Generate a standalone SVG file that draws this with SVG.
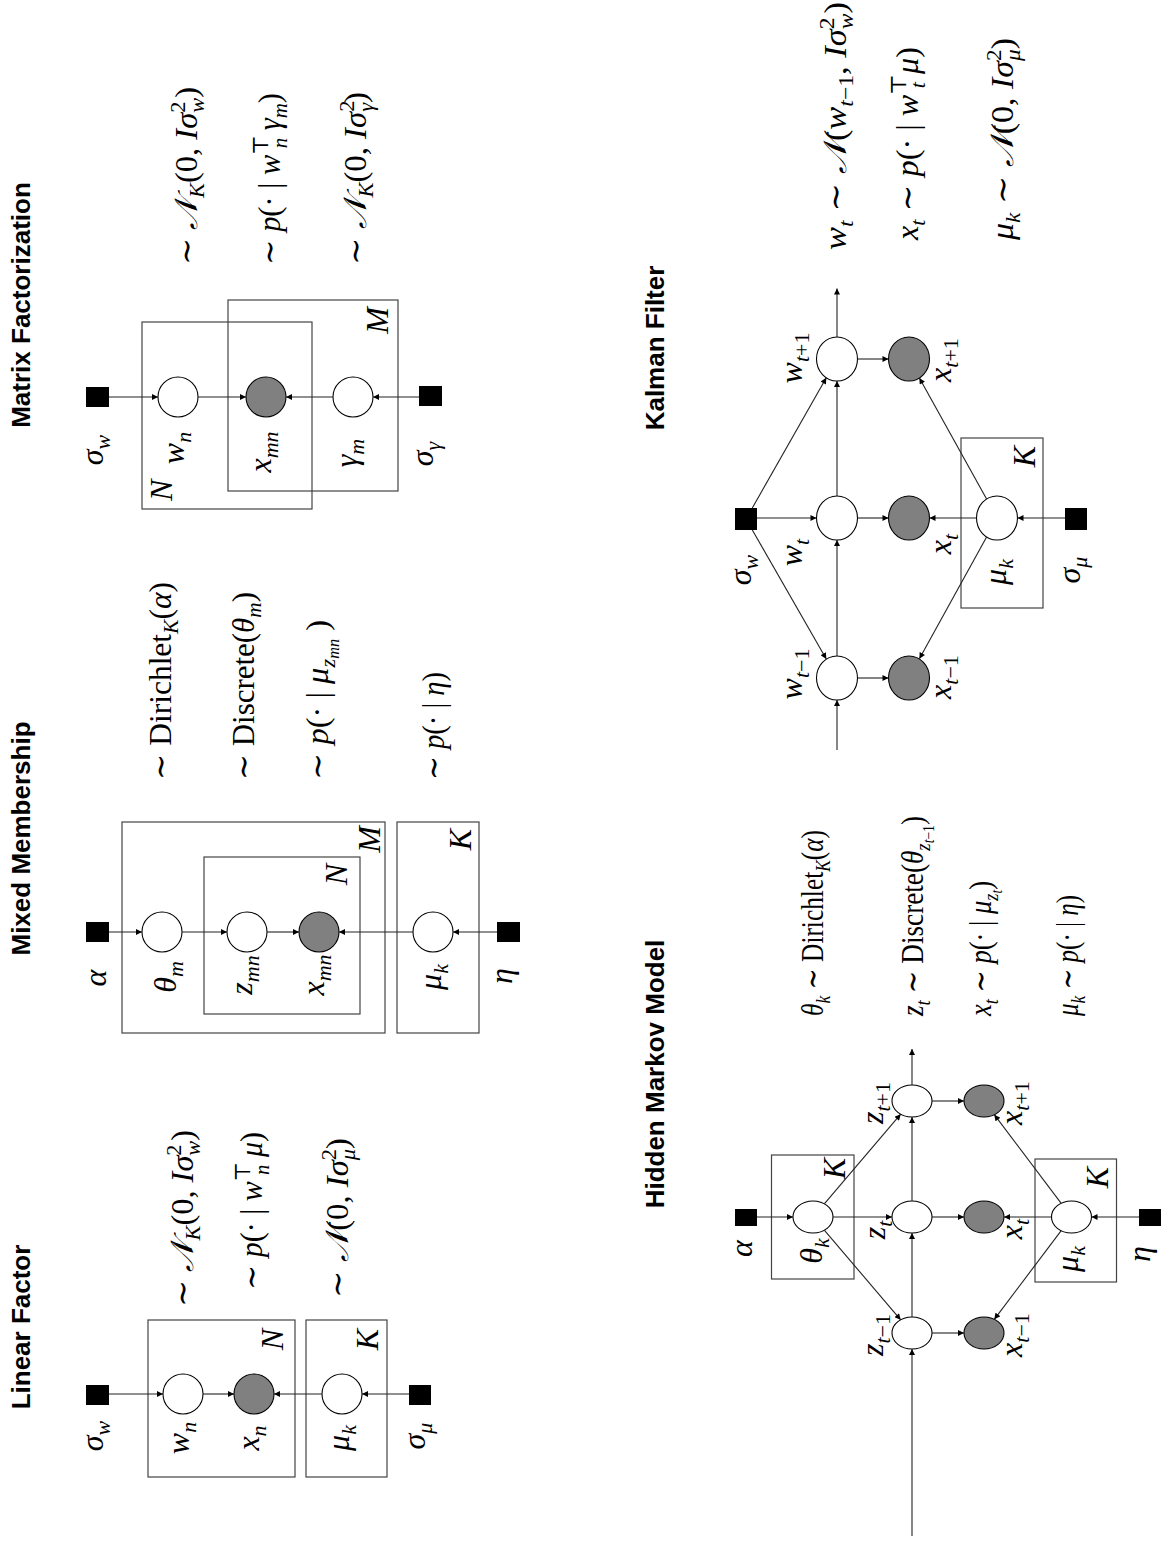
<svg xmlns="http://www.w3.org/2000/svg" width="1168" height="1556" viewBox="0 0 1168 1556">
<style>
.t{font-family:"Liberation Sans",Arial,sans-serif;font-weight:bold;font-size:26px;text-anchor:middle;fill:#000}
.m{font-family:"Liberation Serif","DejaVu Serif",serif;font-size:32px;fill:#000}
.c{text-anchor:middle}
.e{text-anchor:end}
.i{font-style:italic}
.r{font-style:normal}
.s{font-size:22px}
.ss{font-size:16px}
.n{fill:#fff;stroke:#000;stroke-width:1.1}
.o{fill:#808080;stroke:#000;stroke-width:1.1}
.sq{fill:#000}
.p{fill:none;stroke:#444;stroke-width:1.2}
.ed line{stroke:#222;stroke-width:1.1;marker-end:url(#ah)}
</style>
<defs>
<marker id="ah" viewBox="0 0 10 10" refX="10" refY="5" markerWidth="7" markerHeight="6" markerUnits="userSpaceOnUse" orient="auto"><path d="M0,0L10,5L0,10z" fill="#000"/></marker>
</defs>
<rect width="1168" height="1556" fill="#fff"/>
<!-- whole page is laid out landscape and turned a quarter turn -->
<g transform="translate(0,1556) rotate(-90)">

<!-- ===== Linear Factor ===== -->
<g id="linear-factor">
<text class="t" x="229" y="30">Linear Factor</text>
<g id="lf-plates">
<rect class="p" x="79" y="148" width="157" height="147"/>
<text class="m i e" x="227" y="283">N</text>
<rect class="p" x="79" y="306" width="157" height="81"/>
<text class="m i e" x="227" y="378">K</text>
</g>
<g id="lf-sigma-w"><rect class="sq" x="151" y="86" width="20" height="23"/><text class="m i c" x="120" y="103">σ<tspan class="s" dy="7">w</tspan></text></g>
<g id="lf-w-n"><circle class="n" cx="162" cy="183" r="20"/><text class="m i c" x="118" y="189">w<tspan class="s" dy="7">n</tspan></text></g>
<g id="lf-x-n"><circle class="o" cx="162" cy="254" r="20"/><text class="m i c" x="118" y="259">x<tspan class="s" dy="7">n</tspan></text></g>
<g id="lf-mu-k"><circle class="n" cx="162" cy="342" r="20"/><text class="m i c" x="118" y="349">μ<tspan class="s" dy="7">k</tspan></text></g>
<g id="lf-sigma-mu"><rect class="sq" x="151" y="409" width="20" height="22"/><text class="m i c" x="120" y="425">σ<tspan class="s" dy="7">μ</tspan></text></g>
<g id="lf-edges" class="ed">
<line x1="162" y1="109" x2="162" y2="163"/>
<line x1="162" y1="203" x2="162" y2="234"/>
<line x1="162" y1="322" x2="162" y2="274"/>
<line x1="162" y1="409" x2="162" y2="362"/>
</g>
<g id="lf-eqs">
<text class="m" x="249" y="193" textLength="177" lengthAdjust="spacingAndGlyphs">∼ <tspan class="i">𝒩</tspan><tspan class="s i" dy="7">K</tspan><tspan dy="-7">(0, </tspan><tspan class="i">Iσ</tspan><tspan class="s" dy="-12">2</tspan><tspan class="s i" dx="-11" dy="19">w</tspan><tspan dy="-7">)</tspan></text>
<text class="m" x="266" y="262" textLength="158" lengthAdjust="spacingAndGlyphs">∼ <tspan class="i">p</tspan>(· | <tspan class="i">w</tspan><tspan class="s" dy="-12">⊤</tspan><tspan class="s i" dx="-14" dy="19">n</tspan><tspan class="i" dy="-7"> μ</tspan>)</text>
<text class="m" x="258" y="348" textLength="160" lengthAdjust="spacingAndGlyphs">∼ <tspan class="i">𝒩</tspan>(0, <tspan class="i">Iσ</tspan><tspan class="s" dy="-12">2</tspan><tspan class="s i" dx="-11" dy="19">μ</tspan><tspan dy="-7">)</tspan></text>
</g>
</g>

<!-- ===== Mixed Membership ===== -->
<g id="mixed-membership">
<text class="t" x="717.5" y="30">Mixed Membership</text>
<g id="mm-plates">
<rect class="p" x="523" y="122" width="211" height="263"/>
<text class="m i e" x="730" y="380">M</text>
<rect class="p" x="542" y="204" width="157" height="156"/>
<text class="m i e" x="692" y="347">N</text>
<rect class="p" x="523" y="397" width="211" height="82"/>
<text class="m i e" x="727" y="471">K</text>
</g>
<g id="mm-alpha"><rect class="sq" x="614" y="86" width="20" height="23"/><text class="m i c" x="578" y="106">α</text></g>
<g id="mm-theta-m"><circle class="n" cx="624" cy="162" r="20"/><text class="m i c" x="579" y="176">θ<tspan class="s" dy="7">m</tspan></text></g>
<g id="mm-z-mn"><circle class="n" cx="624" cy="247" r="20"/><text class="m i c" x="581" y="252">z<tspan class="s" dy="7">mn</tspan></text></g>
<g id="mm-x-mn"><circle class="o" cx="624" cy="319" r="20"/><text class="m i c" x="581" y="324">x<tspan class="s" dy="7">mn</tspan></text></g>
<g id="mm-mu-k"><circle class="n" cx="624" cy="433" r="20"/><text class="m i c" x="579" y="441">μ<tspan class="s" dy="7">k</tspan></text></g>
<g id="mm-eta"><rect class="sq" x="614" y="497" width="20" height="23"/><text class="m i c" x="580" y="512">η</text></g>
<g id="mm-edges" class="ed">
<line x1="624" y1="109" x2="624" y2="142"/>
<line x1="624" y1="182" x2="624" y2="227"/>
<line x1="624" y1="267" x2="624" y2="299"/>
<line x1="624" y1="413" x2="624" y2="339"/>
<line x1="624" y1="497" x2="624" y2="453"/>
</g>
<g id="mm-eqs">
<text class="m" x="776" y="171" textLength="198" lengthAdjust="spacingAndGlyphs">∼ Dirichlet<tspan class="s i" dy="7">K</tspan><tspan dy="-7">(</tspan><tspan class="i">α</tspan>)</text>
<text class="m" x="776" y="254" textLength="188" lengthAdjust="spacingAndGlyphs">∼ Discrete(<tspan class="i">θ</tspan><tspan class="s i" dy="7">m</tspan><tspan dy="-7">)</tspan></text>
<text class="m" x="776" y="328" textLength="160" lengthAdjust="spacingAndGlyphs">∼ <tspan class="i">p</tspan>(· | <tspan class="i">μ</tspan><tspan class="s i" dy="7">z</tspan><tspan class="ss i" dy="4">mn</tspan><tspan dy="-11"> )</tspan></text>
<text class="m" x="776" y="444" textLength="108" lengthAdjust="spacingAndGlyphs">∼ <tspan class="i">p</tspan>(· | <tspan class="i">η</tspan>)</text>
</g>
</g>

<!-- ===== Matrix Factorization ===== -->
<g id="matrix-factorization">
<text class="t" x="1251" y="30">Matrix Factorization</text>
<g id="mf-plates">
<rect class="p" x="1047" y="142" width="187" height="170"/>
<text class="m i" x="1055" y="172">N</text>
<rect class="p" x="1065" y="228" width="191" height="170"/>
<text class="m i e" x="1249" y="388">M</text>
</g>
<g id="mf-sigma-w"><rect class="sq" x="1149" y="86" width="20" height="23"/><text class="m i c" x="1106" y="103">σ<tspan class="s" dy="7">w</tspan></text></g>
<g id="mf-w-n"><circle class="n" cx="1159" cy="178" r="20"/><text class="m i c" x="1108" y="184">w<tspan class="s" dy="7">n</tspan></text></g>
<g id="mf-x-mn"><circle class="o" cx="1159" cy="266" r="20"/><text class="m i c" x="1104" y="271">x<tspan class="s" dy="7">mn</tspan></text></g>
<g id="mf-gamma-m"><circle class="n" cx="1159" cy="353" r="20"/><text class="m i c" x="1103" y="357">γ<tspan class="s" dy="7">m</tspan></text></g>
<g id="mf-sigma-gamma"><rect class="sq" x="1150" y="419" width="20" height="23"/><text class="m i c" x="1102" y="433">σ<tspan class="s" dy="7">γ</tspan></text></g>
<g id="mf-edges" class="ed">
<line x1="1159" y1="109" x2="1159" y2="158"/>
<line x1="1159" y1="198" x2="1159" y2="246"/>
<line x1="1159" y1="333" x2="1159" y2="286"/>
<line x1="1159" y1="419" x2="1159" y2="373"/>
</g>
<g id="mf-eqs">
<text class="m" x="1291" y="197" textLength="178" lengthAdjust="spacingAndGlyphs">∼ <tspan class="i">𝒩</tspan><tspan class="s i" dy="7">K</tspan><tspan dy="-7">(0, </tspan><tspan class="i">Iσ</tspan><tspan class="s" dy="-12">2</tspan><tspan class="s i" dx="-11" dy="19">w</tspan><tspan dy="-7">)</tspan></text>
<text class="m" x="1291" y="280" textLength="172" lengthAdjust="spacingAndGlyphs">∼ <tspan class="i">p</tspan>(· | <tspan class="i">w</tspan><tspan class="s" dy="-12">⊤</tspan><tspan class="s i" dx="-14" dy="19">n</tspan><tspan class="i" dy="-7"> γ</tspan><tspan class="s i" dy="7">m</tspan><tspan dy="-7">)</tspan></text>
<text class="m" x="1291" y="366" textLength="173" lengthAdjust="spacingAndGlyphs">∼ <tspan class="i">𝒩</tspan><tspan class="s i" dy="7">K</tspan><tspan dy="-7">(0, </tspan><tspan class="i">Iσ</tspan><tspan class="s" dy="-12">2</tspan><tspan class="s i" dx="-11" dy="19">γ</tspan><tspan dy="-7">)</tspan></text>
</g>
</g>

<!-- ===== Hidden Markov Model ===== -->
<g id="hidden-markov-model">
<text class="t" x="482" y="664">Hidden Markov Model</text>
<g id="hmm-plates">
<rect class="p" x="277" y="771.5" width="124" height="82.5"/>
<text class="m i e" x="398" y="845">K</text>
<rect class="p" x="274" y="1035" width="123" height="81.5"/>
<text class="m i e" x="389" y="1108">K</text>
</g>
<g id="hmm-alpha"><rect class="sq" x="330" y="735" width="17" height="22"/><text class="m i c" x="307.5" y="752">α</text></g>
<g id="hmm-theta-k"><ellipse class="n" cx="339" cy="813" rx="16" ry="20"/><text class="m i c" x="305" y="822">θ<tspan class="s" dy="7">k</tspan></text></g>
<g id="hmm-z-prev"><ellipse class="n" cx="223" cy="912" rx="16" ry="20"/><text class="m i c" x="221" y="883">z<tspan class="s" dy="7">t<tspan class="r">−1</tspan></tspan></text></g>
<g id="hmm-z-t"><ellipse class="n" cx="339" cy="912" rx="16" ry="20"/><text class="m i c" x="326" y="885">z<tspan class="s" dy="7">t</tspan></text></g>
<g id="hmm-z-next"><ellipse class="n" cx="455" cy="912" rx="16" ry="20"/><text class="m i c" x="453" y="883">z<tspan class="s" dy="7">t<tspan class="r">+1</tspan></tspan></text></g>
<g id="hmm-x-prev"><ellipse class="o" cx="223" cy="984" rx="16" ry="20"/><text class="m i c" x="221" y="1022">x<tspan class="s" dy="7">t<tspan class="r">−1</tspan></tspan></text></g>
<g id="hmm-x-t"><ellipse class="o" cx="339" cy="984" rx="16" ry="20"/><text class="m i c" x="327" y="1022">x<tspan class="s" dy="7">t</tspan></text></g>
<g id="hmm-x-next"><ellipse class="o" cx="455" cy="984" rx="16" ry="20"/><text class="m i c" x="453" y="1022">x<tspan class="s" dy="7">t<tspan class="r">+1</tspan></tspan></text></g>
<g id="hmm-mu-k"><ellipse class="n" cx="339" cy="1071.5" rx="16" ry="20"/><text class="m i c" x="297" y="1078">μ<tspan class="s" dy="7">k</tspan></text></g>
<g id="hmm-eta"><rect class="sq" x="330" y="1139" width="17" height="22"/><text class="m i c" x="302" y="1150">η</text></g>
<g id="hmm-edges" class="ed">
<line x1="339" y1="757" x2="339" y2="793"/>
<line x1="339" y1="833" x2="339" y2="892"/>
<line x1="339" y1="932" x2="339" y2="964"/>
<line x1="339" y1="1051.5" x2="339" y2="1004"/>
<line x1="339" y1="1139" x2="339" y2="1091.5"/>
<line x1="239" y1="912" x2="323" y2="912"/>
<line x1="355" y1="912" x2="439" y2="912"/>
<line x1="20" y1="912" x2="207" y2="912"/>
<line x1="471" y1="912" x2="507" y2="912"/>
<line x1="223" y1="932" x2="223" y2="964"/>
<line x1="455" y1="932" x2="455" y2="964"/>
<line x1="325.8" y1="824.3" x2="236.2" y2="900.7"/>
<line x1="352.2" y1="824.3" x2="441.8" y2="900.7"/>
<line x1="325.3" y1="1061.2" x2="236.7" y2="994.3"/>
<line x1="352.7" y1="1061.2" x2="441.3" y2="994.3"/>
</g>
<g id="hmm-eqs">
<text class="m" x="540" y="823" textLength="186" lengthAdjust="spacingAndGlyphs"><tspan class="i">θ</tspan><tspan class="s i" dy="7">k</tspan><tspan dy="-7"> ∼ Dirichlet</tspan><tspan class="s i" dy="7">K</tspan><tspan dy="-7">(</tspan><tspan class="i">α</tspan>)</text>
<text class="m" x="540" y="923" textLength="200" lengthAdjust="spacingAndGlyphs"><tspan class="i">z</tspan><tspan class="s i" dy="7">t</tspan><tspan dy="-7"> ∼ Discrete(</tspan><tspan class="i">θ</tspan><tspan class="s i" dy="7">z</tspan><tspan class="ss" dy="4"><tspan class="i">t</tspan>−1</tspan><tspan dy="-11">)</tspan></text>
<text class="m" x="540" y="991" textLength="135" lengthAdjust="spacingAndGlyphs"><tspan class="i">x</tspan><tspan class="s i" dy="7">t</tspan><tspan dy="-7"> ∼ </tspan><tspan class="i">p</tspan>(· | <tspan class="i">μ</tspan><tspan class="s i" dy="7">z</tspan><tspan class="ss i" dy="4">t</tspan><tspan dy="-11">)</tspan></text>
<text class="m" x="540" y="1078" textLength="121" lengthAdjust="spacingAndGlyphs"><tspan class="i">μ</tspan><tspan class="s i" dy="7">k</tspan><tspan dy="-7"> ∼ </tspan><tspan class="i">p</tspan>(· | <tspan class="i">η</tspan>)</text>
</g>
</g>

<!-- ===== Kalman Filter ===== -->
<g id="kalman-filter">
<text class="t" x="1208" y="664">Kalman Filter</text>
<g id="kf-plates">
<rect class="p" x="948" y="961" width="170" height="82"/>
<text class="m i e" x="1110" y="1035">K</text>
</g>
<g id="kf-sigma-w"><rect class="sq" x="1026" y="735" width="22" height="22"/><text class="m i c" x="986" y="751">σ<tspan class="s" dy="7">w</tspan></text></g>
<g id="kf-w-prev"><ellipse class="n" cx="878" cy="837" rx="22" ry="20.5"/><text class="m i c" x="882" y="802">w<tspan class="s" dy="7">t<tspan class="r">−1</tspan></tspan></text></g>
<g id="kf-w-t"><ellipse class="n" cx="1038" cy="837" rx="22" ry="20.5"/><text class="m i c" x="1003.5" y="802">w<tspan class="s" dy="7">t</tspan></text></g>
<g id="kf-w-next"><ellipse class="n" cx="1197" cy="837" rx="22" ry="20.5"/><text class="m i c" x="1198" y="802">w<tspan class="s" dy="7">t<tspan class="r">+1</tspan></tspan></text></g>
<g id="kf-x-prev"><ellipse class="o" cx="878" cy="909" rx="22" ry="20.5"/><text class="m i c" x="879" y="951">x<tspan class="s" dy="7">t<tspan class="r">−1</tspan></tspan></text></g>
<g id="kf-x-t"><ellipse class="o" cx="1038" cy="909" rx="22" ry="20.5"/><text class="m i c" x="1012" y="951">x<tspan class="s" dy="7">t</tspan></text></g>
<g id="kf-x-next"><ellipse class="o" cx="1197" cy="909" rx="22" ry="20.5"/><text class="m i c" x="1196" y="951">x<tspan class="s" dy="7">t<tspan class="r">+1</tspan></tspan></text></g>
<g id="kf-mu-k"><ellipse class="n" cx="1038" cy="997" rx="22" ry="20.5"/><text class="m i c" x="984" y="1006">μ<tspan class="s" dy="7">k</tspan></text></g>
<g id="kf-sigma-mu"><rect class="sq" x="1026" y="1065" width="22" height="22"/><text class="m i c" x="986" y="1080">σ<tspan class="s" dy="7">μ</tspan></text></g>
<g id="kf-edges" class="ed">
<line x1="1038" y1="757" x2="1038" y2="816.5"/>
<line x1="1038" y1="857.5" x2="1038" y2="888.5"/>
<line x1="1038" y1="976.5" x2="1038" y2="929.5"/>
<line x1="1038" y1="1065" x2="1038" y2="1017.5"/>
<line x1="900" y1="837" x2="1016" y2="837"/>
<line x1="1060" y1="837" x2="1175" y2="837"/>
<line x1="806" y1="837" x2="856" y2="837"/>
<line x1="1219" y1="837" x2="1267.5" y2="837"/>
<line x1="878" y1="857.5" x2="878" y2="888.5"/>
<line x1="1197" y1="857.5" x2="1197" y2="888.5"/>
<line x1="1026" y1="752.3" x2="897" y2="826.3"/>
<line x1="1048" y1="752.3" x2="1178.2" y2="826.3"/>
<line x1="1019.1" y1="986.6" x2="897.2" y2="919.4"/>
<line x1="1056.9" y1="986.6" x2="1178.1" y2="919.4"/>
</g>
<g id="kf-eqs">
<text class="m" x="1306" y="846" textLength="248" lengthAdjust="spacingAndGlyphs"><tspan class="i">w</tspan><tspan class="s i" dy="7">t</tspan><tspan dy="-7"> ∼ </tspan><tspan class="i">𝒩</tspan>(<tspan class="i">w</tspan><tspan class="s" dy="7"><tspan class="i">t</tspan>−1</tspan><tspan dy="-7">, </tspan><tspan class="i">Iσ</tspan><tspan class="s" dy="-12">2</tspan><tspan class="s i" dx="-11" dy="19">w</tspan><tspan dy="-7">)</tspan></text>
<text class="m" x="1316" y="918" textLength="193" lengthAdjust="spacingAndGlyphs"><tspan class="i">x</tspan><tspan class="s i" dy="7">t</tspan><tspan dy="-7"> ∼ </tspan><tspan class="i">p</tspan>(· | <tspan class="i">w</tspan><tspan class="s" dy="-12">⊤</tspan><tspan class="s i" dx="-14" dy="19">t</tspan><tspan class="i" dy="-7"> μ</tspan>)</text>
<text class="m" x="1316" y="1013" textLength="202" lengthAdjust="spacingAndGlyphs"><tspan class="i">μ</tspan><tspan class="s i" dy="7">k</tspan><tspan dy="-7"> ∼ </tspan><tspan class="i">𝒩</tspan>(0, <tspan class="i">Iσ</tspan><tspan class="s" dy="-12">2</tspan><tspan class="s i" dx="-11" dy="19">μ</tspan><tspan dy="-7">)</tspan></text>
</g>
</g>

</g>
</svg>
